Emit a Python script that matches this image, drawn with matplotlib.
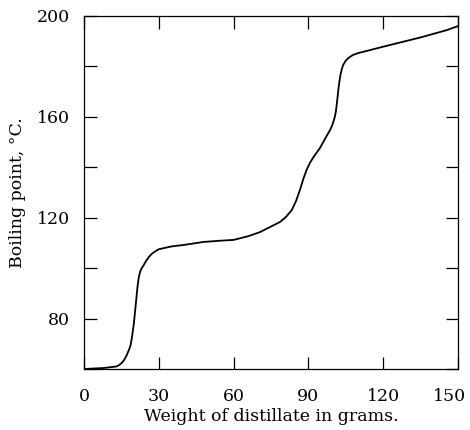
import matplotlib
matplotlib.use("Agg")
import matplotlib.pyplot as plt
from matplotlib.ticker import MultipleLocator
from matplotlib.transforms import ScaledTranslation

# Boiling point curve
weight = [0, 8, 13, 14, 15, 16, 17, 18, 18.7, 19.3, 20, 20.5, 21, 21.5, 22,
          22.5, 23, 24, 25, 26, 27, 28, 30, 35, 40, 48, 55, 60,
          66, 70.6, 75, 78.6, 81, 83.3, 85, 86.6, 88, 89.3, 90.6, 92, 94.6,
          96.5, 98.7, 99.5, 100, 100.5, 101, 101.5, 102, 102.5, 103, 103.5,
          104, 105, 106, 107, 108, 110, 122.7, 135, 145.5, 150]
temp = [60, 60.4, 61, 61.5, 62.3, 63.4, 65.2, 67.5, 69.5, 73, 78, 83, 88,
        93, 96.5, 98.5, 99.7, 101.3, 103, 104.4, 105.5, 106.3, 107.5, 108.6,
        109.2, 110.4, 110.9, 111.2, 112.7, 114.3, 116.5, 118.3, 120.3, 123,
        126.5, 131, 135.5, 139, 141.7, 144, 147.6, 151, 154.8, 156.5, 158,
        159.6, 162, 166, 170.7, 174.5, 177.3, 179.3, 180.7, 182.3, 183.3,
        184, 184.6, 185.3, 188.5, 191.5, 194.4, 196]

x_ticks = [0, 30, 60, 90, 120, 150]
y_ticks = [80, 120, 160, 200]

plt.rcParams["font.family"] = ["DejaVu Serif"]
plt.rcParams["font.size"] = 12.5

fig = plt.figure(figsize=(4.7, 4.3), dpi=100)
ax = fig.add_axes([84 / 470, 1 - 369 / 430, 374 / 470, 353 / 430])

ax.plot(weight, temp, color="black", lw=1.3)

ax.set_xlim(0, 150)
ax.set_ylim(60, 200)
ax.set_xticks(x_ticks)
ax.set_yticks(y_ticks)
ax.yaxis.set_minor_locator(MultipleLocator(20))

ax.tick_params(which="both", direction="in", length=9, width=0.9,
               top=True, right=True, colors="black")
ax.tick_params(axis="y", pad=10)
ax.tick_params(axis="x", pad=14)

for s in ax.spines.values():
    s.set_linewidth(0.9)

# keep the last label inside the figure
last = ax.get_xticklabels()[-1]
last.set_transform(last.get_transform() + ScaledTranslation(-6 / 72, 0, fig.dpi_scale_trans))

ax.set_xlabel("Weight of distillate in grams.", labelpad=2)
ax.set_ylabel("Boiling point, °C.", labelpad=8)

fig.savefig("out.png", dpi=100)
